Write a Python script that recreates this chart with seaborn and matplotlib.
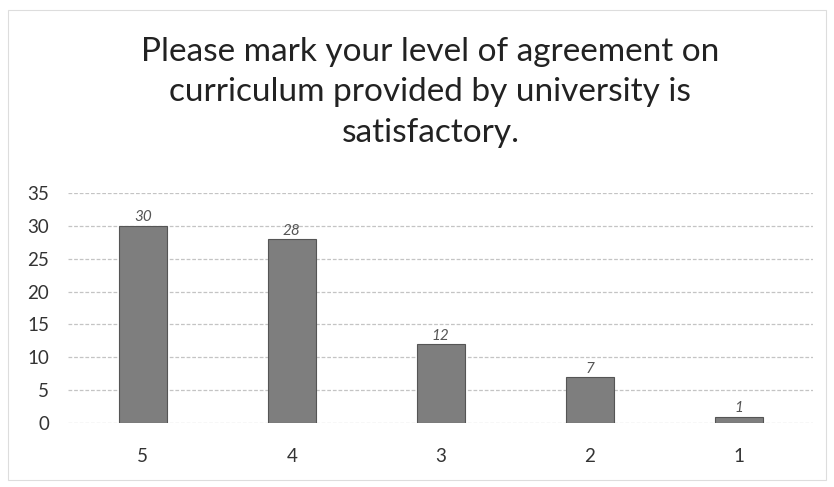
import matplotlib
matplotlib.use("Agg")
import matplotlib.pyplot as plt
import seaborn as sns
import pandas as pd

categories = ["5", "4", "3", "2", "1"]
counts = [30, 28, 12, 7, 1]
y_ticks = [0, 5, 10, 15, 20, 25, 30, 35]
title = "Please mark your level of agreement on\ncurriculum provided by university is\nsatisfactory."

sns.set_theme(style="white")
plt.rcParams["font.family"] = ["Lato", "DejaVu Sans"]

df = pd.DataFrame({"rating": categories, "count": counts})

fig = plt.figure(figsize=(8.34, 4.87), dpi=100)
ax = fig.add_axes([0.082, 0.131, 0.893, 0.473])

sns.barplot(data=df, x="rating", y="count", order=categories, ax=ax,
            color="#7e7e7e", width=0.32, edgecolor="#555555", linewidth=0.8,
            saturation=1)

ax.set_ylim(0, 35)
ax.set_xlim(-0.5, 4.5)
ax.set_yticks(y_ticks)
ax.set_yticklabels([str(v) for v in y_ticks])
ax.yaxis.grid(True, color="#c4c4c4", linewidth=0.9, linestyle=(0, (3, 1.5)))
ax.set_axisbelow(True)
for s in ax.spines.values():
    s.set_visible(False)
ax.tick_params(axis="both", length=0, labelsize=13.5, colors="#333333")
ax.tick_params(axis="x", pad=18)
ax.tick_params(axis="y", pad=14)
ax.set_xlabel("")
ax.set_ylabel("")

for c in ax.containers:
    ax.bar_label(c, labels=[str(v) for v in counts], padding=1,
                 fontsize=11, color="#555555", fontstyle="italic")

fig.text(0.516, 0.925, title, ha="center", va="top", fontsize=24,
         color="#222222", linespacing=1.45)

fig.patches.append(plt.Rectangle((0.01, 0.015), 0.98, 0.965, transform=fig.transFigure,
                                 fill=False, edgecolor="#dddddd", linewidth=0.8))

fig.savefig("out.png", dpi=100)
